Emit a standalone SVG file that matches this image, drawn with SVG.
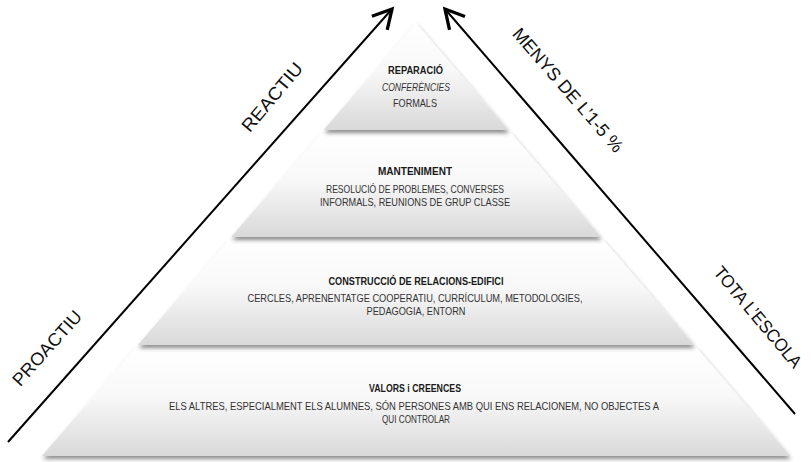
<svg xmlns="http://www.w3.org/2000/svg" width="811" height="462" viewBox="0 0 811 462">
<style>
.tier{fill:url(#tierGrad);filter:url(#shadow);}
.ttl{font-family:"Liberation Sans",Arial,sans-serif;font-size:10.5px;font-weight:bold;fill:#1a1a1a;text-anchor:middle;}
.body{font-family:"Liberation Sans",Arial,sans-serif;font-size:10.5px;fill:#333333;text-anchor:middle;}
.side{font-family:"Liberation Sans",Arial,sans-serif;font-size:18px;fill:#111;text-anchor:middle;}
.arrow{stroke:#000;stroke-width:2;fill:none;marker-end:url(#head);}
</style>
<defs>
<linearGradient id="tierGrad" x1="0" y1="0" x2="0" y2="1">
<stop offset="0" stop-color="#ffffff"/>
<stop offset="0.45" stop-color="#f8f8f8"/>
<stop offset="1" stop-color="#d9d9d9"/>
</linearGradient>
<filter id="shadow" x="-10%" y="-10%" width="120%" height="130%">
<feDropShadow dx="1" dy="3" stdDeviation="2" flood-color="#000" flood-opacity="0.45"/>
</filter>
<marker id="head" markerUnits="userSpaceOnUse" markerWidth="30" markerHeight="30" viewBox="-15 -10 20 20" refX="0" refY="0" orient="auto">
<path d="M -12.5 -6.8 L 0 0 L -12.5 6.8" fill="none" stroke="#000" stroke-width="2.2" stroke-linejoin="miter"/>
</marker>
</defs>
<rect width="811" height="462" fill="#ffffff"/>

<g id="tier-valors">
<polygon class="tier" points="135.2,348 696.8,348 790.1,456 41.9,456"/>
<text class="ttl" x="415" y="392" textLength="92" lengthAdjust="spacingAndGlyphs">VALORS i CREENCES</text>
<text class="body" x="414" y="410" textLength="490" lengthAdjust="spacingAndGlyphs">ELS ALTRES, ESPECIALMENT ELS ALUMNES, SÓN PERSONES AMB QUI ENS RELACIONEM, NO OBJECTES A</text>
<text class="body" x="416" y="423" textLength="68" lengthAdjust="spacingAndGlyphs">QUI CONTROLAR</text>
</g>

<g id="tier-construccio">
<polygon class="tier" points="228.5,240 603.5,240 694.2,345 137.8,345"/>
<text class="ttl" x="416" y="284.5" textLength="175" lengthAdjust="spacingAndGlyphs">CONSTRUCCIÓ DE RELACIONS-EDIFICI</text>
<text class="body" x="415" y="302" textLength="335" lengthAdjust="spacingAndGlyphs">CERCLES, APRENENTATGE COOPERATIU, CURRÍCULUM, METODOLOGIES,</text>
<text class="body" x="416" y="314.5" textLength="99" lengthAdjust="spacingAndGlyphs">PEDAGOGIA, ENTORN</text>
</g>

<g id="tier-manteniment">
<polygon class="tier" points="321,133 511,133 600.9,237 231.1,237"/>
<text class="ttl" x="415" y="175" textLength="74" lengthAdjust="spacingAndGlyphs">MANTENIMENT</text>
<text class="body" x="415" y="193" textLength="178" lengthAdjust="spacingAndGlyphs">RESOLUCIÓ DE PROBLEMES, CONVERSES</text>
<text class="body" x="415" y="205.5" textLength="190" lengthAdjust="spacingAndGlyphs">INFORMALS, REUNIONS DE GRUP CLASSE</text>
</g>

<g id="tier-reparacio">
<polygon class="tier" points="416,23 508.4,130 323.6,130"/>
<text class="ttl" x="415.5" y="74" textLength="55" lengthAdjust="spacingAndGlyphs">REPARACIÓ</text>
<text class="body" x="416" y="91" font-style="italic" textLength="68" lengthAdjust="spacingAndGlyphs">CONFERÈNCIES</text>
<text class="body" x="415" y="107" textLength="44" lengthAdjust="spacingAndGlyphs">FORMALS</text>
</g>

<g id="connectors">
<line class="arrow" x1="8" y1="442" x2="392" y2="9"/>
<line class="arrow" x1="795" y1="414" x2="445" y2="9"/>
</g>

<g id="label-proactiu">
<text class="side" transform="translate(47,348) rotate(-48)" dy="0.35em" textLength="94" lengthAdjust="spacingAndGlyphs">PROACTIU</text>
</g>
<g id="label-reactiu">
<text class="side" transform="translate(272,97) rotate(-50)" dy="0.35em" textLength="84" lengthAdjust="spacingAndGlyphs">REACTIU</text>
</g>
<g id="label-menys">
<text class="side" transform="translate(568,90) rotate(49)" dy="0.35em" textLength="158" lengthAdjust="spacingAndGlyphs">MENYS DE L’1-5 %</text>
</g>
<g id="label-tota">
<text class="side" transform="translate(758,317) rotate(50)" dy="0.35em" font-size="17" textLength="126" lengthAdjust="spacingAndGlyphs">TOTA L’ESCOLA</text>
</g>
</svg>
